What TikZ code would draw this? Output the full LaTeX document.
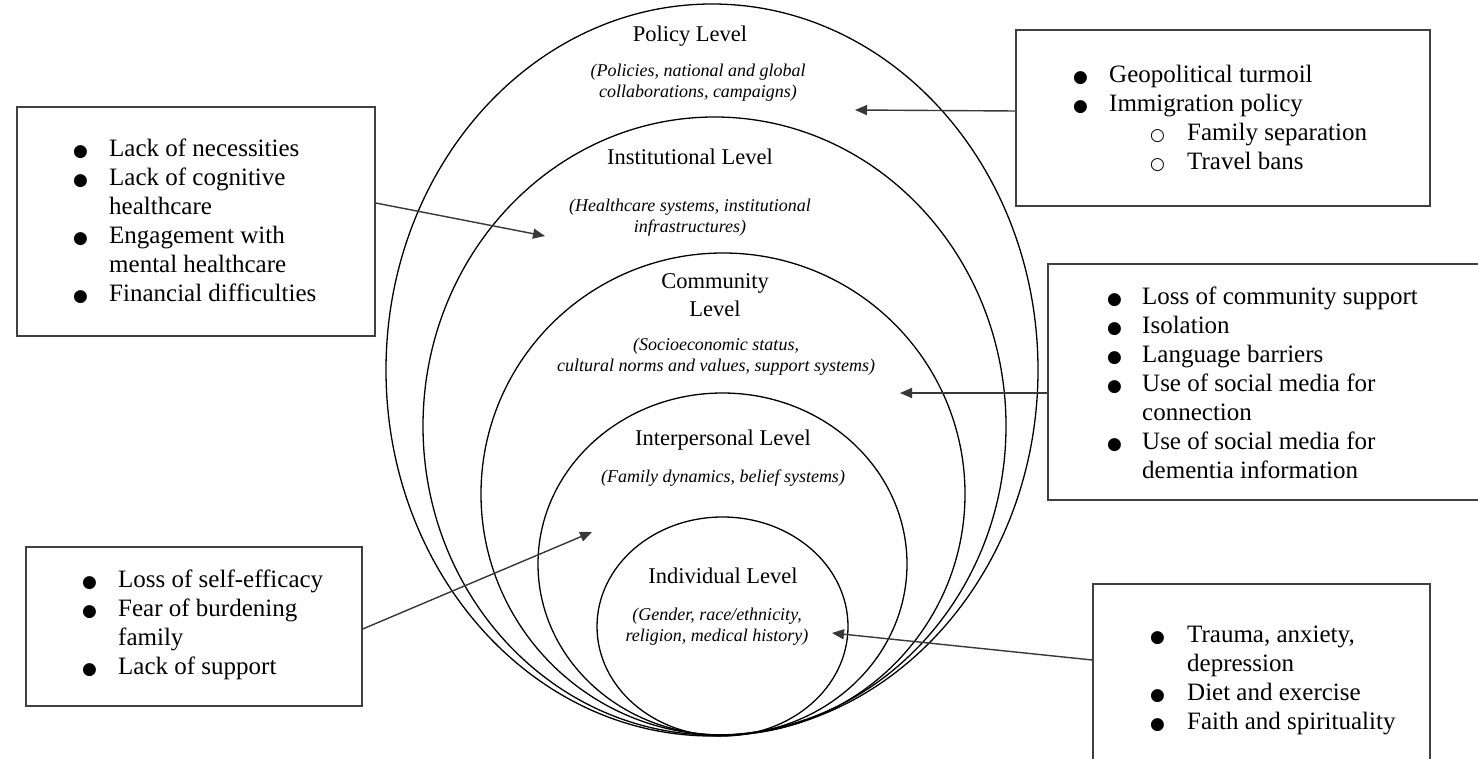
\documentclass[tikz,border=0pt]{standalone}
\usepackage{fontspec}
\setmainfont{Liberation Serif}
\newfontfamily\dejavu{DejaVu Sans}
\usepackage{array}
\usetikzlibrary{arrows.meta,shapes.geometric}
\newcommand\bul{{\dejavu\fontsize{17}{17}\selectfont ●}}
\newcommand\cir{{\dejavu\fontsize{17}{17}\selectfont ○}}
\begin{document}
\begin{tikzpicture}[x=1pt,y=-1pt,
 ring/.style={draw=black, line width=1.3pt, ellipse, inner sep=0pt},
 infobox/.style={draw=black!75, line width=1.4pt, rectangle, inner sep=0pt},
 ttl/.style={font=\fontsize{22.5}{28}\selectfont, inner sep=0pt, anchor=base},
 subt/.style={font=\fontsize{18}{21}\selectfont\itshape, inner sep=0pt, anchor=base},
 lst/.style={font=\fontsize{25}{29}\selectfont, inner sep=0pt, anchor=base west},
 arr/.style={draw=black!78, line width=1.4pt, -{Triangle[length=12pt,width=10pt]}}]
\useasboundingbox (0,0) rectangle (1478,759);
\fill[white] (0,0) rectangle (1478,759);

% rings
\node[ring, minimum width=652pt, minimum height=732pt] (policy) at (712,370) {};
\node[ring, minimum width=583pt, minimum height=618pt] (inst) at (714.5,426) {};
\node[ring, minimum width=484pt, minimum height=482pt] (comm) at (723,494) {};
\node[ring, minimum width=369pt, minimum height=342pt] (inter) at (722.5,564) {};
\node[ring, minimum width=251pt, minimum height=219pt] (indiv) at (722.5,626.5) {};

% ring texts
\node[ttl] (policyT) at (690,42) {Policy Level};
\node[subt] (policyS) at (698,77) {\begin{tabular}[t]{@{}c@{}}(Policies, national and global\\collaborations, campaigns)\end{tabular}};
\node[ttl] (instT) at (690,165) {Institutional Level};
\node[subt] (instS) at (690,212) {\begin{tabular}[t]{@{}c@{}}(Healthcare systems, institutional\\infrastructures)\end{tabular}};
\node[ttl] (commT) at (715,289) {\begin{tabular}[t]{@{}c@{}}Community\\Level\end{tabular}};
\node[subt] (commS) at (716,350) {\begin{tabular}[t]{@{}c@{}}(Socioeconomic status,\\cultural norms and values, support systems)\end{tabular}};
\node[ttl] (interT) at (723,445) {Interpersonal Level};
\node[subt] (interS) at (723,482) {(Family dynamics, belief systems)};
\node[ttl] (indivT) at (723,583) {Individual Level};
\node[subt] (indivS) at (717,620) {\begin{tabular}[t]{@{}c@{}}(Gender, race/ethnicity,\\religion, medical history)\end{tabular}};

% boxes
\node[infobox, minimum width=414pt, minimum height=176pt] (pbox) at (1223,118) {};
\node[infobox, minimum width=358pt, minimum height=229pt] (ibox) at (196,221.5) {};
\node[infobox, minimum width=460pt, minimum height=236pt] (cbox) at (1278,382) {};
\node[infobox, minimum width=336pt, minimum height=159pt] (nbox) at (194,626.5) {};
\node[infobox, minimum width=337pt, minimum height=196pt] (dbox) at (1261.5,682) {};

% box texts
\node[lst] (ptext) at (1073,83) {\begin{tabular}[t]{@{}wl{36pt}@{}l@{}}
\bul & Geopolitical turmoil\\
\bul & Immigration policy\\
\multicolumn{2}{@{}l@{}}{\hspace{77pt}\makebox[37pt][l]{\cir}Family separation}\\
\multicolumn{2}{@{}l@{}}{\hspace{77pt}\makebox[37pt][l]{\cir}Travel bans}
\end{tabular}};
\node[lst] (itext) at (73,157) {\begin{tabular}[t]{@{}wl{36pt}@{}l@{}}
\bul & Lack of necessities\\
\bul & Lack of cognitive\\
 & healthcare\\
\bul & Engagement with\\
 & mental healthcare\\
\bul & Financial difficulties
\end{tabular}};
\node[lst] (ctext) at (1107,305) {\begin{tabular}[t]{@{}wl{35pt}@{}l@{}}
\bul & Loss of community support\\
\bul & Isolation\\
\bul & Language barriers\\
\bul & Use of social media for\\
 & connection\\
\bul & Use of social media for\\
 & dementia information
\end{tabular}};
\node[lst] (ntext) at (82,587) {\begin{tabular}[t]{@{}wl{36pt}@{}l@{}}
\bul & Loss of self-efficacy\\
\bul & Fear of burdening\\
 & family\\
\bul & Lack of support
\end{tabular}};
\node[lst] (dtext) at (1150,642) {\begin{tabular}[t]{@{}wl{37pt}@{}l@{}}
\bul & Trauma, anxiety,\\
 & depression\\
\bul & Diet and exercise\\
\bul & Faith and spirituality
\end{tabular}};

% arrows
\coordinate (pT) at (855,110);
\coordinate (iT) at (545,236);
\coordinate (cT) at (900,393);
\coordinate (nT) at (592,532);
\coordinate (dT) at (832,633);
\draw[arr] ([yshift=7pt]pbox.west) -- (pT);
\draw[arr] ([yshift=18.5pt]ibox.east) -- (iT);
\draw[arr] ([yshift=-11pt]cbox.west) -- (cT);
\draw[arr] ([yshift=-2.5pt]nbox.east) -- (nT);
\draw[arr] ([yshift=22pt]dbox.west) -- (dT);
\end{tikzpicture}
\end{document}
